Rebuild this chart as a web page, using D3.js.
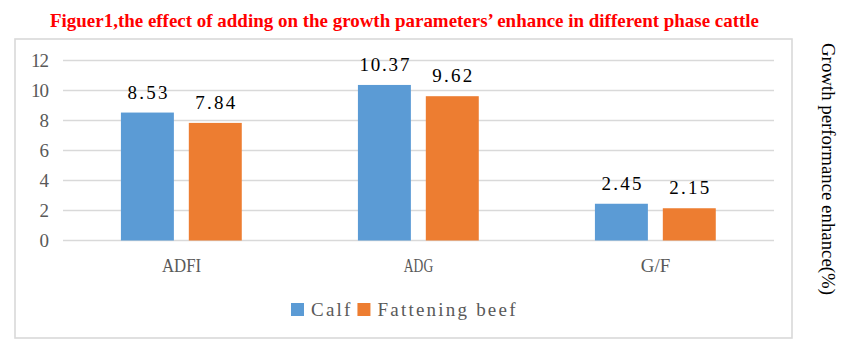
<!DOCTYPE html>
<html><head><meta charset="utf-8">
<script src="https://cdn.jsdelivr.net/npm/d3@7"></script>
<style>html,body{margin:0;padding:0;background:#fff;}svg{display:block;}</style>
</head><body>
<svg id="chart" width="844" height="357"></svg>
<script>
const categories = ["ADFI", "ADG", "G/F"];
const seriesNames = ["Calf", "Fattening beef"];
const calf = [8.53, 10.37, 2.45];
const fattening = [7.84, 9.62, 2.15];
const yTicks = [0, 2, 4, 6, 8, 10, 12];
const colors = ["#5B9BD5", "#ED7D31"];
const titleText = "Figuer1,the effect of adding on the growth parameters\u2019 enhance in different phase cattle";
const yTitle = "Growth performance enhance(%)";

const svg = d3.select("#chart");
const FONT = "Liberation Serif";
const CW = 9.8; // approx half-width char width (SimSun-like)

// frame
svg.append("rect").attr("x", 15).attr("y", 39).attr("width", 777).attr("height", 299)
  .attr("fill", "#fff").attr("stroke", "#d9d9d9").attr("stroke-width", 1.6);

// title
svg.append("text").attr("x", 404.5).attr("y", 26.5).attr("text-anchor", "middle")
  .attr("font-family", FONT).attr("font-weight", "bold").attr("font-size", 19)
  .attr("fill", "#FF0000").attr("textLength", 709).attr("lengthAdjust", "spacingAndGlyphs")
  .text(titleText);

const x0 = d3.scaleBand().domain(categories).range([63, 774]).paddingInner(0).paddingOuter(0);
const bw = x0.bandwidth();
const x1 = d3.scaleBand().domain(seriesNames).range([bw * 0.2444, bw * 0.7543]).paddingInner(0.22).paddingOuter(0);
const y = d3.scaleLinear().domain([0, 12]).range([240.5, 60.5]);

// gridlines
svg.append("g").selectAll("line").data(yTicks).join("line")
  .attr("x1", 63).attr("x2", 774)
  .attr("y1", d => y(d)).attr("y2", d => y(d))
  .attr("stroke", "#d9d9d9").attr("stroke-width", 1.6);

// y tick labels
svg.append("g").selectAll("text").data(yTicks).join("text")
  .attr("x", 49).attr("y", d => y(d)).attr("dy", "0.35em")
  .attr("text-anchor", "end").attr("font-family", FONT).attr("font-size", 19)
  .attr("fill", "#595959")
  .attr("textLength", d => String(d).length * 9).attr("lengthAdjust", "spacing")
  .text(d => d);

const seriesData = [calf, fattening];
const g = svg.append("g");
seriesNames.forEach((s, si) => {
  const vals = seriesData[si];
  g.selectAll("rect.s" + si).data(categories).join("rect")
    .attr("class", "s" + si)
    .attr("x", c => x0(c) + x1(s))
    .attr("y", (c, i) => y(vals[i]))
    .attr("width", x1.bandwidth())
    .attr("height", (c, i) => y(0) - y(vals[i]))
    .attr("fill", colors[si]);
  g.selectAll("text.l" + si).data(categories).join("text")
    .attr("class", "l" + si)
    .attr("x", c => x0(c) + x1(s) + x1.bandwidth() / 2)
    .attr("y", (c, i) => y(vals[i]) - 14)
    .attr("text-anchor", "middle").attr("font-family", FONT).attr("font-size", 19)
    .attr("fill", "#000")
    .attr("textLength", (c, i) => vals[i].toFixed(2).length * 10).attr("lengthAdjust", "spacing")
    .text((c, i) => vals[i].toFixed(2));
});

// category labels
svg.append("g").selectAll("text").data(categories).join("text")
  .attr("x", c => x0(c) + bw / 2).attr("y", 272)
  .attr("text-anchor", "middle").attr("font-family", FONT).attr("font-size", 19)
  .attr("fill", "#595959")
  .attr("textLength", c => c.length * CW).attr("lengthAdjust", "spacingAndGlyphs")
  .text(c => c);

// legend
let lx = 291;
seriesNames.forEach((s, si) => {
  svg.append("rect").attr("x", lx).attr("y", 303).attr("width", 13).attr("height", 13).attr("fill", colors[si]);
  const tl = s.length * 9.86;
  svg.append("text").attr("x", lx + 20).attr("y", 316)
    .attr("font-family", FONT).attr("font-size", 19).attr("fill", "#595959")
    .attr("textLength", tl).attr("lengthAdjust", "spacing").text(s);
  lx += 20 + tl + 7;
});

// right axis title
svg.append("text").attr("transform", "translate(822,169) rotate(90)")
  .attr("text-anchor", "middle").attr("font-family", FONT).attr("font-size", 18)
  .attr("fill", "#000").attr("textLength", 252).attr("lengthAdjust", "spacingAndGlyphs")
  .text(yTitle);
</script>
</body></html>
